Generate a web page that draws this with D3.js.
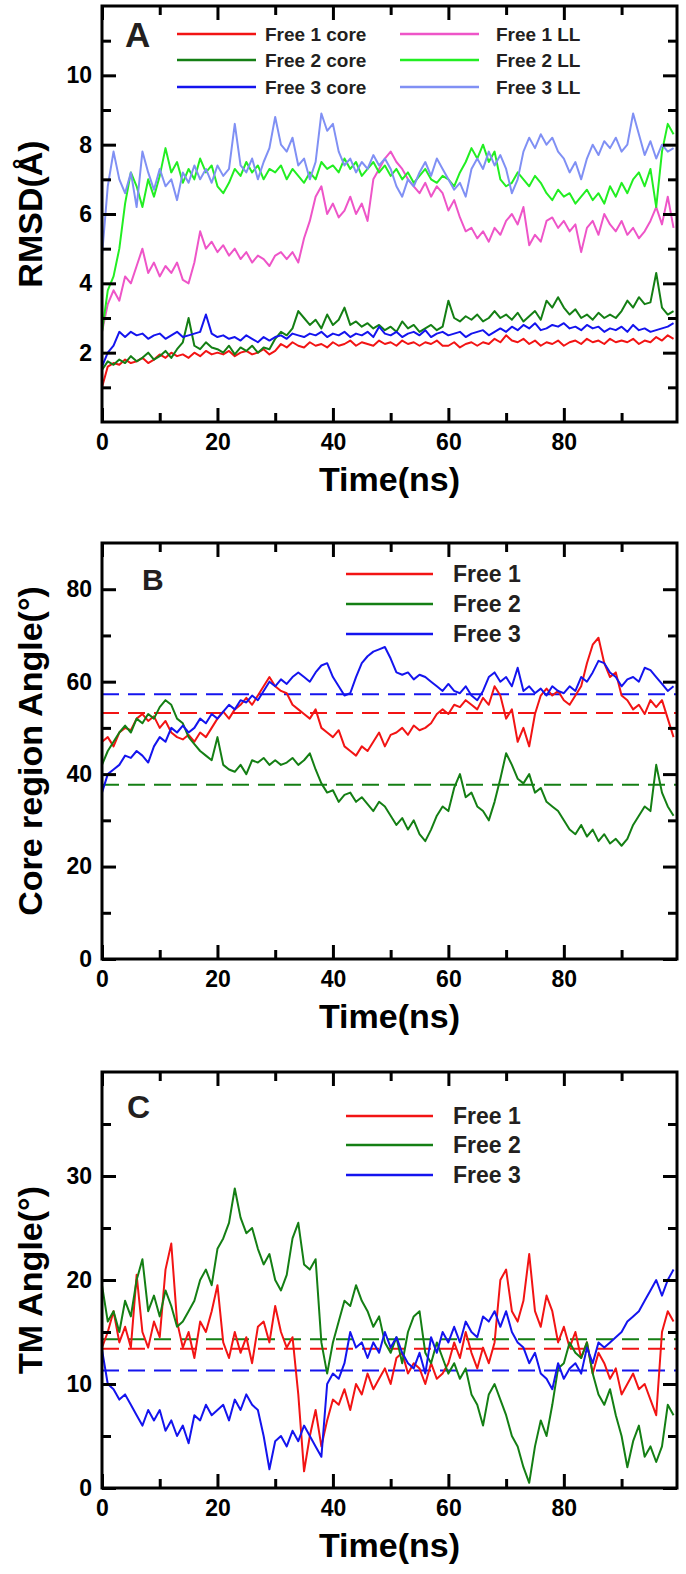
<!DOCTYPE html>
<html><head><meta charset="utf-8">
<script src="https://cdn.jsdelivr.net/npm/d3@7"></script>
<style>html,body{margin:0;padding:0;background:#fff;}svg{display:block;}</style>
</head><body><div id="chart"></div>
<script>
// ---------- DATA ----------
const timeNs = d3.range(0, 100, 1);

// Panel A: RMSD (Å)
const free1Core = [1.0,1.6,1.7,1.65,1.8,1.7,1.75,1.85,1.7,1.8,
 1.95,1.85,2.0,1.9,1.95,1.85,2.0,1.9,2.05,1.95,
 2.0,1.95,2.05,1.9,2.0,2.05,1.95,2.0,2.1,1.95,
 2.05,2.25,2.15,2.3,2.2,2.15,2.3,2.2,2.25,2.15,
 2.3,2.2,2.25,2.35,2.2,2.3,2.25,2.2,2.35,2.25,
 2.3,2.2,2.35,2.25,2.3,2.2,2.3,2.25,2.35,2.2,
 2.2,2.3,2.15,2.25,2.3,2.2,2.3,2.25,2.4,2.3,
 2.5,2.35,2.3,2.4,2.25,2.35,2.2,2.3,2.25,2.35,
 2.2,2.3,2.35,2.25,2.4,2.3,2.35,2.25,2.4,2.3,
 2.35,2.3,2.4,2.25,2.35,2.3,2.45,2.35,2.5,2.4];
const free2Core = [1.5,1.75,1.65,1.8,1.7,1.9,1.75,1.85,2.0,1.8,
 1.9,2.05,1.85,2.1,2.3,3.0,2.2,2.1,2.3,2.15,
 2.1,2.0,2.2,1.95,2.15,2.05,2.2,2.0,2.15,2.1,
 2.4,2.6,2.5,2.7,3.2,3.0,2.8,2.95,2.7,3.1,
 2.8,2.95,3.3,2.8,2.9,2.75,2.85,2.7,2.8,2.65,
 2.75,2.6,2.9,2.7,2.8,2.6,2.7,2.8,2.65,2.75,
 3.5,3.0,2.9,3.05,2.95,3.1,2.9,3.0,3.2,3.0,
 3.1,2.95,3.15,2.9,3.05,3.2,2.95,3.5,3.3,3.6,
 3.3,3.1,3.25,3.0,3.1,2.95,3.15,3.0,3.1,3.0,
 3.2,3.5,3.3,3.6,3.4,3.45,4.3,3.3,3.1,3.2];
const free3Core = [1.6,2.0,2.2,2.6,2.45,2.6,2.5,2.55,2.4,2.5,
 2.55,2.4,2.5,2.6,2.45,2.5,2.55,2.6,3.1,2.55,
 2.45,2.5,2.4,2.45,2.35,2.5,2.4,2.3,2.45,2.35,
 2.45,2.5,2.4,2.55,2.5,2.45,2.55,2.5,2.6,2.45,
 2.55,2.5,2.6,2.45,2.55,2.5,2.6,2.45,2.75,2.55,
 2.5,2.6,2.45,2.55,2.6,2.5,2.65,2.45,2.55,2.6,
 2.5,2.55,2.6,2.45,2.55,2.6,2.65,2.5,2.6,2.7,
 2.6,2.75,2.65,2.8,2.7,2.85,2.65,2.7,2.8,2.75,
 2.85,2.7,2.75,2.65,2.8,2.7,2.75,2.6,2.7,2.65,
 2.75,2.6,2.8,2.65,2.7,2.6,2.65,2.7,2.75,2.85];
const free1LL = [2.6,3.4,3.8,3.5,4.2,4.0,4.5,5.0,4.3,4.6,
 4.2,4.5,4.3,4.6,4.1,4.0,4.6,5.5,5.0,5.2,
 4.9,5.1,4.8,5.0,4.7,4.9,4.6,4.8,4.7,4.5,
 4.8,4.9,4.7,4.9,4.6,5.3,5.8,6.5,6.8,6.0,
 6.3,5.9,6.1,6.5,6.0,6.3,5.8,7.0,7.3,7.6,
 7.8,7.5,7.3,7.0,6.8,6.6,6.9,6.5,6.8,6.6,
 6.1,6.4,5.9,5.5,5.6,5.3,5.5,5.2,5.6,5.4,
 5.8,6.0,5.7,6.2,5.1,5.4,5.2,5.8,5.9,5.6,
 5.8,5.5,5.7,4.9,5.6,5.8,5.4,6.0,5.7,5.5,
 5.8,5.4,5.6,5.3,5.5,5.8,6.2,5.7,6.5,5.6];
const free2LL = [2.6,3.8,4.2,5.0,6.3,7.2,6.8,6.2,7.0,6.5,
 7.1,7.9,7.2,7.5,6.9,7.3,7.0,7.6,7.2,7.4,
 6.8,6.6,6.9,7.3,7.1,7.5,7.2,7.4,7.0,7.3,
 7.2,7.4,7.0,7.3,7.1,6.9,7.2,7.0,7.5,7.3,
 7.4,7.2,7.6,7.3,7.5,7.1,7.3,7.5,7.2,7.4,
 7.1,7.3,7.0,7.2,6.9,7.1,7.3,7.0,6.9,7.1,
 7.0,6.8,7.2,7.5,7.9,7.6,8.0,7.5,7.8,7.0,
 6.8,6.9,7.2,7.0,6.8,7.1,6.9,6.6,6.4,6.7,
 6.5,6.6,6.3,6.5,6.7,6.4,6.6,6.3,6.8,6.5,
 6.9,6.6,7.0,7.2,6.8,7.3,6.2,7.8,8.6,8.3];
const free3LL = [4.8,6.8,7.8,7.0,6.6,7.2,6.2,7.8,7.2,6.7,
 7.3,6.8,7.0,6.4,7.2,6.9,7.4,7.0,7.3,6.9,
 7.4,7.1,7.3,8.6,7.4,7.2,7.6,7.0,7.5,7.9,
 8.8,8.0,7.8,8.2,7.4,7.6,7.0,7.5,8.9,8.4,
 8.6,7.8,7.4,7.6,7.2,7.5,7.3,7.7,7.4,7.6,
 7.3,6.8,6.5,7.0,6.8,7.2,7.5,7.1,7.6,7.3,
 7.0,6.7,6.9,6.5,7.3,7.6,7.3,7.8,7.4,7.7,
 7.3,6.6,7.0,7.8,8.2,7.9,8.3,8.0,8.2,7.8,
 7.6,7.2,7.5,7.0,7.6,8.0,7.7,8.1,7.9,8.2,
 7.8,8.0,8.9,8.3,7.7,8.1,7.6,8.0,7.8,7.9];

// Panel B: Core region angle (°)
const coreFree1 = [47,48,46,49,50,49.5,52,53,51.5,52.5,
 50,51.5,49,48,47.5,48.5,47,49,48,50,
 52,53.5,52,54,55,56.5,55,57,59,61,
 59,58,57.5,55,54,53,52,54,50,49,
 48,49.5,46,45,44,46,45,47,49,46,
 48.5,49,50,48.5,50.5,49.5,50,51,53,54,
 53,55,54.5,56,55,54,56.5,55,59,57,
 52,54,47,50,46,53,57,58.5,57,58,
 56,55,57,59,64,68,69.5,64,61,62,
 57,56,54,55,53,56,54.5,56,52,48];
const coreFree2 = [42,45,47,49,50.5,49,52,51,53,52,
 54.5,56,55,52,51,48,46.5,45,44,43,
 48,42,41,40.5,42,40,43,42.5,43.5,42,
 43,42,42.5,43.5,42,43,44.5,41,38,36,
 36.5,34,35.5,36,34,35,33.5,32,34,33,
 31,29,30.5,28,30,27,25.5,28,31,33,
 32,37,40,35,36,33,32,30,34,39,
 44.5,42,39,38,40,36,37,34,33,32,
 30,28,27,29,26.5,28,25.5,27,25,26,
 24.5,26,29,31,33,32,42,36,33,31];
const coreFree3 = [36,40,41,42,44,43.5,45,44,42.5,46,
 48,47,50,49,50.5,49,50,52,51,53,
 52,53.5,55,54,56,55.5,57,56,58,60,
 59,60.5,59.5,61,62,61,60,62,63.5,64,
 61,59,57,57.5,61,64,65.5,66.5,67,67.5,
 65,62,61.5,62,60.5,61.5,61,60,59,58,
 59.5,58,57.5,59,57,56,58,61,62,60,
 61,59,63,58,59,57.5,58.5,57,59,58,
 57.5,59,58,61,60,62,64.5,64,62,61,
 59,60.5,61,60,63,62.5,61,59.5,58,59];
const coreMeans = [53.2, 37.7, 57.3];

// Panel C: TM angle (°)
const tmFree1 = [13.5,15,17,14,15.5,13.5,20.5,15,13.5,16,
 14.5,21,23.5,16,13.5,15,12.5,16,15,17,
 19.5,14,12.5,15,13,14.5,12,15.5,16,14,
 17.5,15,13.5,14.5,9,1.6,5,7.5,4,6.5,
 8.5,8,9.5,7.5,10,9,11,9.5,10.5,11.5,
 10,12.5,13,11,12,11.5,10,12,10.5,11,
 12,14,12.5,15,13,11.5,13.5,12,14,20,
 21,17,16,18,22.5,17,15.5,18.5,17,14,
 15.5,13.5,15,12.5,14,11,13,12,10.5,11.5,
 9,10,11,9.5,10,8.5,7,15,17,16];
const tmFree2 = [19.5,16,17,15,18,16.5,20,22,17,18.5,
 16.5,19,17.5,15.5,16,17,18,20,21,19.5,
 23,24,25.5,28.8,26,24.5,25,23,21.5,22.5,
 20,19,20.5,24,25.5,21.5,21,22,14,11,
 14,16,18,17.5,19.5,18,17,15.5,16.5,14,
 13,14.5,12,15,16.5,17,13,12,14,12.5,
 11,12,10.5,11.5,9,8,6,9,10,8.5,
 7,5,4,2,0.5,4,6.5,5,8,11.5,
 12,14,13,12.5,14,11,9,8,9.5,7,
 5,2,4.5,6,3,4,2.5,4,8,7];
const tmFree3 = [13.3,10,9.5,8.5,9,8,7,6,7.5,6.5,
 7.5,5.5,6.5,5,6,4.3,7,6.5,8,7,
 7.5,8,6.5,8.5,7.5,9,8,7.5,5,1.8,
 4.5,5,4,5.5,4.5,6,5,4,3,10,
 11,10.5,12,15,13.5,14,12.5,14,13,15,
 13.5,14.5,13,12,11.5,13,11,14.5,13,15,
 14,15.5,14,16,15,14.5,16.5,16,17,15.5,
 17,15,14,13.5,12,13,11,10.5,9.5,12,
 10.5,11.5,12,11,13.5,12,14,13.5,14,14.5,
 15,16,16.5,17,18,19,20,18.5,20,21];
const tmMeans = [13.4, 14.3, 11.3];

const legendA = ["Free 1 core","Free 2 core","Free 3 core","Free 1 LL","Free 2 LL","Free 3 LL"];
const legendBC = ["Free 1","Free 2","Free 3"];
const xMajorTicks = [0,20,40,60,80];
const xMinorTicks = [10,30,50,70,90];

// ---------- STYLE ----------
const C = {red:"#f21414", dgreen:"#147f14", blue:"#1414ee", pink:"#ee55c8", lime:"#22ee22", peri:"#8090f4"};
const TXT = "#231f20";
const FONT = "'Liberation Sans', Arial, Helvetica, sans-serif";

const W = 686, H = 1574;
const L = 102, R = 677, PH = 416;
const svg = d3.select("#chart").append("svg").attr("width", W).attr("height", H)
  .style("font-family", FONT);

const x = d3.scaleLinear().domain([0, 99.6]).range([L, R]);

function drawPanel(cfg) {
  const top = cfg.top, bottom = top + PH;
  const y = d3.scaleLinear().domain([0, cfg.yMax]).range([bottom, top]);
  const g = svg.append("g");

  // clip
  const cid = "clip" + cfg.letter;
  svg.append("clipPath").attr("id", cid).append("rect")
    .attr("x", L).attr("y", top).attr("width", R - L).attr("height", PH);
  const plot = g.append("g").attr("clip-path", `url(#${cid})`);

  // dashed means
  if (cfg.means) {
    cfg.means.forEach((m, i) => {
      plot.append("line").attr("x1", x(0)).attr("x2", x(99.6))
        .attr("y1", y(m)).attr("y2", y(m))
        .attr("stroke", cfg.colors[i]).attr("stroke-width", 2)
        .attr("stroke-dasharray", "17,9");
    });
  }
  const line = d3.line().x((d, i) => x(timeNs[i])).y(d => y(d));
  cfg.series.forEach((s, i) => {
    plot.append("path").datum(s).attr("d", line).attr("fill", "none")
      .attr("stroke", cfg.colors[i]).attr("stroke-width", 2).attr("stroke-linejoin", "round");
  });

  // axes
  const styleAxis = sel => {
    sel.select(".domain").remove();
    sel.selectAll("line").attr("stroke", "#000").attr("stroke-width", 3);
    sel.selectAll("text").attr("fill", "#000").style("font-size", "23px").style("font-weight", "bold")
      .style("font-family", FONT);
  };
  g.append("g").attr("transform", `translate(0,${bottom})`)
    .call(d3.axisBottom(x).tickValues(xMajorTicks).tickSize(-14).tickPadding(12).tickFormat(d3.format("d"))).call(styleAxis);
  g.append("g").attr("transform", `translate(0,${bottom})`)
    .call(d3.axisBottom(x).tickValues(xMinorTicks).tickSize(-9).tickFormat("")).call(styleAxis);
  g.append("g").attr("transform", `translate(0,${top})`)
    .call(d3.axisTop(x).tickValues(xMajorTicks).tickSize(-14).tickFormat("")).call(styleAxis);
  g.append("g").attr("transform", `translate(0,${top})`)
    .call(d3.axisTop(x).tickValues(xMinorTicks).tickSize(-9).tickFormat("")).call(styleAxis);

  g.append("g").attr("transform", `translate(${L},0)`)
    .call(d3.axisLeft(y).tickValues(cfg.yMajor).tickSize(-14).tickPadding(10).tickFormat(d3.format("d"))).call(styleAxis);
  g.append("g").attr("transform", `translate(${L},0)`)
    .call(d3.axisLeft(y).tickValues(cfg.yMinor).tickSize(-9).tickFormat("")).call(styleAxis);
  g.append("g").attr("transform", `translate(${R},0)`)
    .call(d3.axisRight(y).tickValues(cfg.yMajor).tickSize(-14).tickFormat("")).call(styleAxis);
  g.append("g").attr("transform", `translate(${R},0)`)
    .call(d3.axisRight(y).tickValues(cfg.yMinor).tickSize(-9).tickFormat("")).call(styleAxis);

  // frame
  g.append("rect").attr("x", L).attr("y", top).attr("width", R - L).attr("height", PH)
    .attr("fill", "none").attr("stroke", "#000").attr("stroke-width", 3);

  // titles
  g.append("text").attr("x", (L + R) / 2).attr("y", bottom + 69).attr("text-anchor", "middle")
    .style("font-size", "34px").style("font-weight", "bold").attr("fill", "#000").text("Time(ns)");
  g.append("text").attr("transform", `translate(42,${(top + bottom) / 2}) rotate(-90)`)
    .attr("text-anchor", "middle").style("font-size", "34px").style("font-weight", "bold")
    .attr("fill", "#000").text(cfg.yTitle);

  // panel letter
  g.append("text").attr("x", cfg.letterPos[0]).attr("y", cfg.letterPos[1])
    .style("font-size", cfg.letterSize + "px").style("font-weight", "bold").attr("fill", TXT).text(cfg.letter);

  // legend
  cfg.legend.forEach(it => {
    g.append("line").attr("x1", it.x1).attr("x2", it.x2).attr("y1", it.y).attr("y2", it.y)
      .attr("stroke", it.color).attr("stroke-width", 2.5);
    g.append("text").attr("x", it.tx).attr("y", it.y).attr("dy", "0.36em")
      .style("font-size", cfg.legendSize + "px").style("font-weight", "bold").attr("fill", TXT).text(it.label);
  });
}

// Panel A
const colsA = [C.red, C.dgreen, C.blue, C.pink, C.lime, C.peri];
const rowYA = [34, 60, 87];
drawPanel({
  top: 6, yMax: 12, yMajor: [2,4,6,8,10], yMinor: [1,3,5,7,9,11],
  series: [free1Core, free2Core, free3Core, free1LL, free2LL, free3LL], colors: colsA,
  yTitle: "RMSD(Å)", letter: "A", letterPos: [125, 47], letterSize: 35,
  legendSize: 19,
  legend: legendA.map((lab, i) => i < 3
    ? {label: lab, color: colsA[i], x1: 177, x2: 256, tx: 265, y: rowYA[i]}
    : {label: lab, color: colsA[i], x1: 400, x2: 479, tx: 496, y: rowYA[i - 3]})
});

// Panel B
const colsBC = [C.red, C.dgreen, C.blue];
drawPanel({
  top: 543, yMax: 90, yMajor: [0,20,40,60,80], yMinor: [10,30,50,70],
  series: [coreFree1, coreFree2, coreFree3], colors: colsBC, means: coreMeans,
  yTitle: "Core region Angle(\u00B0)", letter: "B", letterPos: [142, 590], letterSize: 30,
  legendSize: 23,
  legend: legendBC.map((lab, i) => ({label: lab, color: colsBC[i], x1: 346, x2: 433, tx: 453, y: [574, 604, 634][i]}))
});

// Panel C
drawPanel({
  top: 1072, yMax: 40, yMajor: [0,10,20,30], yMinor: [5,15,25,35],
  series: [tmFree1, tmFree2, tmFree3], colors: colsBC, means: tmMeans,
  yTitle: "TM Angle(\u00B0)", letter: "C", letterPos: [127, 1118], letterSize: 32,
  legendSize: 23,
  legend: legendBC.map((lab, i) => ({label: lab, color: colsBC[i], x1: 346, x2: 433, tx: 453, y: [1116, 1145, 1175][i]}))
});
</script></body></html>
